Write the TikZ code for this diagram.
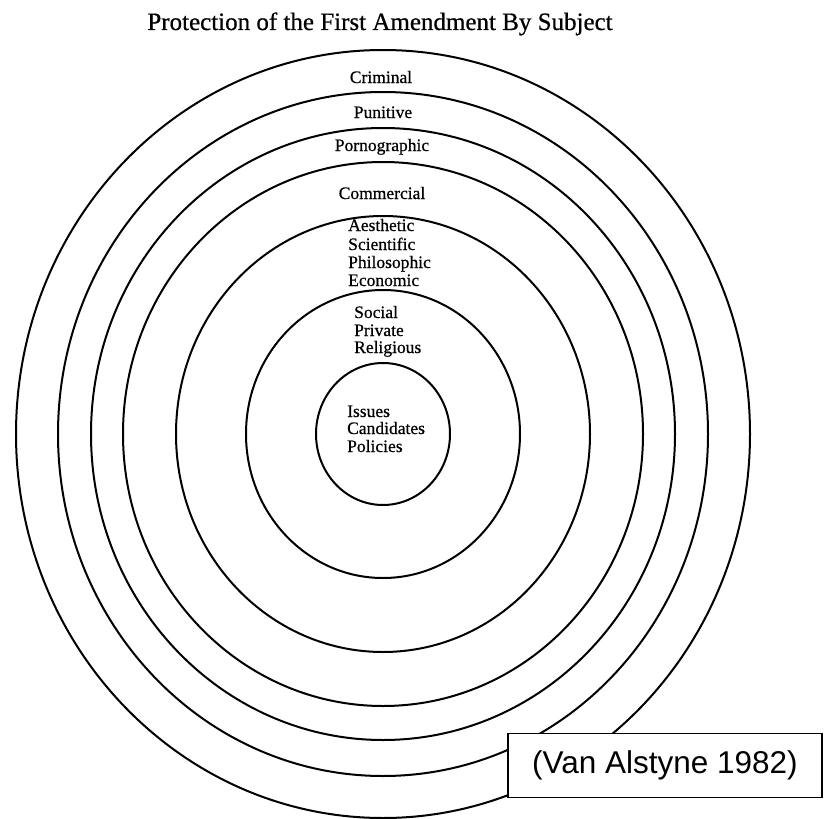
\documentclass[tikz,border=0pt]{standalone}
\usepackage{fontspec}
\setmainfont{Liberation Serif}
\newfontfamily\lblfont{Liberation Serif}[FakeBold=0.6]
\newfontfamily\boxfont{Liberation Sans}
\begin{document}
\begin{tikzpicture}[x=1pt,y=-1pt,
  ring/.style={line width=2pt, black},
  lbl/.style={inner sep=0pt, font=\lblfont\fontsize{17.5}{18}\selectfont},
  lblc/.style={lbl, anchor=base},
  lbll/.style={lbl, anchor=base west},
  ttl/.style={inner sep=0pt, anchor=base, font=\lblfont\fontsize{25}{28}\selectfont},
  srcbox/.style={draw=black, line width=1.5pt, fill=white, minimum width=314pt, minimum height=64pt, inner sep=0pt, font=\boxfont\fontsize{31.5}{34}\selectfont}
]
\useasboundingbox (0,0) rectangle (825,819);
\coordinate (c) at (383,434);
\draw[ring] (c) ellipse [x radius=367, y radius=384];
\draw[ring] (c) ellipse [x radius=325, y radius=342];
\draw[ring] (c) ellipse [x radius=292, y radius=306];
\draw[ring] (c) ellipse [x radius=260, y radius=272];
\draw[ring] (c) ellipse [x radius=207, y radius=218];
\draw[ring] (c) ellipse [x radius=137, y radius=144];
\draw[ring] (c) ellipse [x radius=67, y radius=71];

\node[ttl] (title) at (380,30) {Protection of the First Amendment By Subject};

\node[lblc] (crim) at (381,83) {Criminal};
\node[lblc] (pun) at (383,118) {Punitive};
\node[lblc] (porn) at (382,151) {Pornographic};
\node[lblc] (comm) at (382,199) {Commercial};

\node[lbll] (aes) at (348,231) {Aesthetic};
\node[lbll] (sci) at (348,250) {Scientific};
\node[lbll] (phi) at (348,268) {Philosophic};
\node[lbll] (eco) at (348,286) {Economic};

\node[lbll] (soc) at (354,318) {Social};
\node[lbll] (pri) at (354,336) {Private};
\node[lbll] (rel) at (354,353) {Religious};

\node[lbll] (iss) at (347,417) {Issues};
\node[lbll] (can) at (347,434) {Candidates};
\node[lbll] (pol) at (347,452) {Policies};

\node[srcbox] (src) at (665,765.5) {(Van Alstyne 1982)};
\end{tikzpicture}
\end{document}
